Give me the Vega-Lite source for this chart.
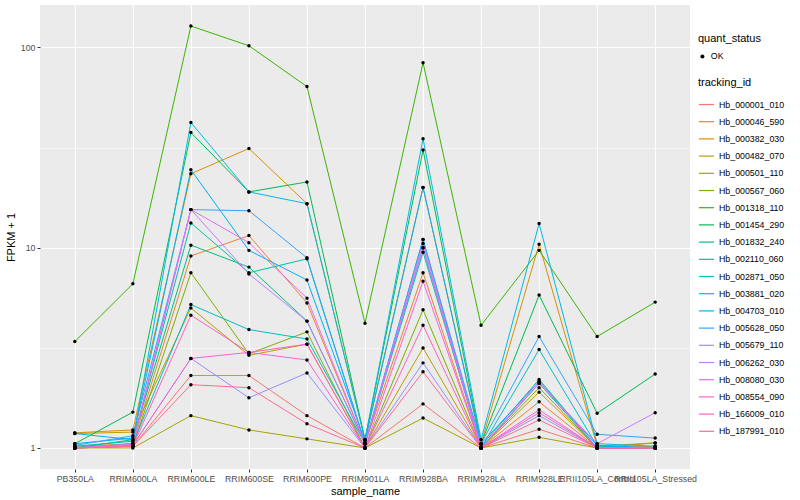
{
  "$schema": "https://vega.github.io/schema/vega-lite/v6.json",
  "width": 650,
  "height": 464,
  "padding": {"left": 5, "top": 5, "right": 5, "bottom": 5},
  "background": "white",
  "config": {
    "font": "Liberation Sans",
    "view": {"fill": "#EBEBEB", "stroke": null},
    "axis": {
      "domain": false,
      "gridColor": "white",
      "gridWidth": 1.1,
      "tickColor": "#333333",
      "tickSize": 3,
      "labelColor": "#4D4D4D",
      "labelFontSize": 8.8,
      "labelPadding": 2,
      "titleFontSize": 11,
      "titleFontWeight": "normal",
      "titleColor": "black"
    },
    "legend": {
      "titleFontSize": 11,
      "titleFontWeight": "normal",
      "titleColor": "black",
      "labelFontSize": 8.8,
      "labelColor": "black"
    }
  },
  "data": {"values": [
    {"tracking_id":"Hb_000001_010","sample_name":"PB350LA","fpkm":1.00,"quant_status":"OK"},
    {"tracking_id":"Hb_000001_010","sample_name":"RRIM600LA","fpkm":1.02,"quant_status":"OK"},
    {"tracking_id":"Hb_000001_010","sample_name":"RRIM600LE","fpkm":2.30,"quant_status":"OK"},
    {"tracking_id":"Hb_000001_010","sample_name":"RRIM600SE","fpkm":2.30,"quant_status":"OK"},
    {"tracking_id":"Hb_000001_010","sample_name":"RRIM600PE","fpkm":1.45,"quant_status":"OK"},
    {"tracking_id":"Hb_000001_010","sample_name":"RRIM901LA","fpkm":1.00,"quant_status":"OK"},
    {"tracking_id":"Hb_000001_010","sample_name":"RRIM928BA","fpkm":1.66,"quant_status":"OK"},
    {"tracking_id":"Hb_000001_010","sample_name":"RRIM928LA","fpkm":1.00,"quant_status":"OK"},
    {"tracking_id":"Hb_000001_010","sample_name":"RRIM928LE","fpkm":1.24,"quant_status":"OK"},
    {"tracking_id":"Hb_000001_010","sample_name":"RRII105LA_Control","fpkm":1.00,"quant_status":"OK"},
    {"tracking_id":"Hb_000001_010","sample_name":"RRII105LA_Stressed","fpkm":1.00,"quant_status":"OK"},

    {"tracking_id":"Hb_000046_590","sample_name":"PB350LA","fpkm":1.02,"quant_status":"OK"},
    {"tracking_id":"Hb_000046_590","sample_name":"RRIM600LA","fpkm":1.05,"quant_status":"OK"},
    {"tracking_id":"Hb_000046_590","sample_name":"RRIM600LE","fpkm":9.1,"quant_status":"OK"},
    {"tracking_id":"Hb_000046_590","sample_name":"RRIM600SE","fpkm":11.5,"quant_status":"OK"},
    {"tracking_id":"Hb_000046_590","sample_name":"RRIM600PE","fpkm":5.3,"quant_status":"OK"},
    {"tracking_id":"Hb_000046_590","sample_name":"RRIM901LA","fpkm":1.05,"quant_status":"OK"},
    {"tracking_id":"Hb_000046_590","sample_name":"RRIM928BA","fpkm":7.5,"quant_status":"OK"},
    {"tracking_id":"Hb_000046_590","sample_name":"RRIM928LA","fpkm":1.00,"quant_status":"OK"},
    {"tracking_id":"Hb_000046_590","sample_name":"RRIM928LE","fpkm":1.70,"quant_status":"OK"},
    {"tracking_id":"Hb_000046_590","sample_name":"RRII105LA_Control","fpkm":1.00,"quant_status":"OK"},
    {"tracking_id":"Hb_000046_590","sample_name":"RRII105LA_Stressed","fpkm":1.02,"quant_status":"OK"},

    {"tracking_id":"Hb_000382_030","sample_name":"PB350LA","fpkm":1.19,"quant_status":"OK"},
    {"tracking_id":"Hb_000382_030","sample_name":"RRIM600LA","fpkm":1.23,"quant_status":"OK"},
    {"tracking_id":"Hb_000382_030","sample_name":"RRIM600LE","fpkm":23.4,"quant_status":"OK"},
    {"tracking_id":"Hb_000382_030","sample_name":"RRIM600SE","fpkm":31.3,"quant_status":"OK"},
    {"tracking_id":"Hb_000382_030","sample_name":"RRIM600PE","fpkm":16.6,"quant_status":"OK"},
    {"tracking_id":"Hb_000382_030","sample_name":"RRIM901LA","fpkm":1.10,"quant_status":"OK"},
    {"tracking_id":"Hb_000382_030","sample_name":"RRIM928BA","fpkm":20.0,"quant_status":"OK"},
    {"tracking_id":"Hb_000382_030","sample_name":"RRIM928LA","fpkm":1.05,"quant_status":"OK"},
    {"tracking_id":"Hb_000382_030","sample_name":"RRIM928LE","fpkm":10.4,"quant_status":"OK"},
    {"tracking_id":"Hb_000382_030","sample_name":"RRII105LA_Control","fpkm":1.02,"quant_status":"OK"},
    {"tracking_id":"Hb_000382_030","sample_name":"RRII105LA_Stressed","fpkm":1.06,"quant_status":"OK"},

    {"tracking_id":"Hb_000482_070","sample_name":"PB350LA","fpkm":1.18,"quant_status":"OK"},
    {"tracking_id":"Hb_000482_070","sample_name":"RRIM600LA","fpkm":1.20,"quant_status":"OK"},
    {"tracking_id":"Hb_000482_070","sample_name":"RRIM600LE","fpkm":5.0,"quant_status":"OK"},
    {"tracking_id":"Hb_000482_070","sample_name":"RRIM600SE","fpkm":2.9,"quant_status":"OK"},
    {"tracking_id":"Hb_000482_070","sample_name":"RRIM600PE","fpkm":3.3,"quant_status":"OK"},
    {"tracking_id":"Hb_000482_070","sample_name":"RRIM901LA","fpkm":1.00,"quant_status":"OK"},
    {"tracking_id":"Hb_000482_070","sample_name":"RRIM928BA","fpkm":3.16,"quant_status":"OK"},
    {"tracking_id":"Hb_000482_070","sample_name":"RRIM928LA","fpkm":1.00,"quant_status":"OK"},
    {"tracking_id":"Hb_000482_070","sample_name":"RRIM928LE","fpkm":1.90,"quant_status":"OK"},
    {"tracking_id":"Hb_000482_070","sample_name":"RRII105LA_Control","fpkm":1.00,"quant_status":"OK"},
    {"tracking_id":"Hb_000482_070","sample_name":"RRII105LA_Stressed","fpkm":1.06,"quant_status":"OK"},

    {"tracking_id":"Hb_000501_110","sample_name":"PB350LA","fpkm":1.00,"quant_status":"OK"},
    {"tracking_id":"Hb_000501_110","sample_name":"RRIM600LA","fpkm":1.00,"quant_status":"OK"},
    {"tracking_id":"Hb_000501_110","sample_name":"RRIM600LE","fpkm":1.45,"quant_status":"OK"},
    {"tracking_id":"Hb_000501_110","sample_name":"RRIM600SE","fpkm":1.23,"quant_status":"OK"},
    {"tracking_id":"Hb_000501_110","sample_name":"RRIM600PE","fpkm":1.11,"quant_status":"OK"},
    {"tracking_id":"Hb_000501_110","sample_name":"RRIM901LA","fpkm":1.00,"quant_status":"OK"},
    {"tracking_id":"Hb_000501_110","sample_name":"RRIM928BA","fpkm":1.41,"quant_status":"OK"},
    {"tracking_id":"Hb_000501_110","sample_name":"RRIM928LA","fpkm":1.00,"quant_status":"OK"},
    {"tracking_id":"Hb_000501_110","sample_name":"RRIM928LE","fpkm":1.13,"quant_status":"OK"},
    {"tracking_id":"Hb_000501_110","sample_name":"RRII105LA_Control","fpkm":1.00,"quant_status":"OK"},
    {"tracking_id":"Hb_000501_110","sample_name":"RRII105LA_Stressed","fpkm":1.00,"quant_status":"OK"},

    {"tracking_id":"Hb_000567_060","sample_name":"PB350LA","fpkm":1.00,"quant_status":"OK"},
    {"tracking_id":"Hb_000567_060","sample_name":"RRIM600LA","fpkm":1.02,"quant_status":"OK"},
    {"tracking_id":"Hb_000567_060","sample_name":"RRIM600LE","fpkm":7.5,"quant_status":"OK"},
    {"tracking_id":"Hb_000567_060","sample_name":"RRIM600SE","fpkm":2.95,"quant_status":"OK"},
    {"tracking_id":"Hb_000567_060","sample_name":"RRIM600PE","fpkm":3.8,"quant_status":"OK"},
    {"tracking_id":"Hb_000567_060","sample_name":"RRIM901LA","fpkm":1.00,"quant_status":"OK"},
    {"tracking_id":"Hb_000567_060","sample_name":"RRIM928BA","fpkm":4.9,"quant_status":"OK"},
    {"tracking_id":"Hb_000567_060","sample_name":"RRIM928LA","fpkm":1.00,"quant_status":"OK"},
    {"tracking_id":"Hb_000567_060","sample_name":"RRIM928LE","fpkm":2.00,"quant_status":"OK"},
    {"tracking_id":"Hb_000567_060","sample_name":"RRII105LA_Control","fpkm":1.00,"quant_status":"OK"},
    {"tracking_id":"Hb_000567_060","sample_name":"RRII105LA_Stressed","fpkm":1.00,"quant_status":"OK"},

    {"tracking_id":"Hb_001318_110","sample_name":"PB350LA","fpkm":3.4,"quant_status":"OK"},
    {"tracking_id":"Hb_001318_110","sample_name":"RRIM600LA","fpkm":6.6,"quant_status":"OK"},
    {"tracking_id":"Hb_001318_110","sample_name":"RRIM600LE","fpkm":128,"quant_status":"OK"},
    {"tracking_id":"Hb_001318_110","sample_name":"RRIM600SE","fpkm":102,"quant_status":"OK"},
    {"tracking_id":"Hb_001318_110","sample_name":"RRIM600PE","fpkm":63.8,"quant_status":"OK"},
    {"tracking_id":"Hb_001318_110","sample_name":"RRIM901LA","fpkm":4.2,"quant_status":"OK"},
    {"tracking_id":"Hb_001318_110","sample_name":"RRIM928BA","fpkm":84,"quant_status":"OK"},
    {"tracking_id":"Hb_001318_110","sample_name":"RRIM928LA","fpkm":4.1,"quant_status":"OK"},
    {"tracking_id":"Hb_001318_110","sample_name":"RRIM928LE","fpkm":9.7,"quant_status":"OK"},
    {"tracking_id":"Hb_001318_110","sample_name":"RRII105LA_Control","fpkm":3.6,"quant_status":"OK"},
    {"tracking_id":"Hb_001318_110","sample_name":"RRII105LA_Stressed","fpkm":5.35,"quant_status":"OK"},

    {"tracking_id":"Hb_001454_290","sample_name":"PB350LA","fpkm":1.05,"quant_status":"OK"},
    {"tracking_id":"Hb_001454_290","sample_name":"RRIM600LA","fpkm":1.51,"quant_status":"OK"},
    {"tracking_id":"Hb_001454_290","sample_name":"RRIM600LE","fpkm":37.6,"quant_status":"OK"},
    {"tracking_id":"Hb_001454_290","sample_name":"RRIM600SE","fpkm":19.0,"quant_status":"OK"},
    {"tracking_id":"Hb_001454_290","sample_name":"RRIM600PE","fpkm":21.3,"quant_status":"OK"},
    {"tracking_id":"Hb_001454_290","sample_name":"RRIM901LA","fpkm":1.10,"quant_status":"OK"},
    {"tracking_id":"Hb_001454_290","sample_name":"RRIM928BA","fpkm":30.8,"quant_status":"OK"},
    {"tracking_id":"Hb_001454_290","sample_name":"RRIM928LA","fpkm":1.05,"quant_status":"OK"},
    {"tracking_id":"Hb_001454_290","sample_name":"RRIM928LE","fpkm":5.8,"quant_status":"OK"},
    {"tracking_id":"Hb_001454_290","sample_name":"RRII105LA_Control","fpkm":1.49,"quant_status":"OK"},
    {"tracking_id":"Hb_001454_290","sample_name":"RRII105LA_Stressed","fpkm":2.34,"quant_status":"OK"},

    {"tracking_id":"Hb_001832_240","sample_name":"PB350LA","fpkm":1.00,"quant_status":"OK"},
    {"tracking_id":"Hb_001832_240","sample_name":"RRIM600LA","fpkm":1.10,"quant_status":"OK"},
    {"tracking_id":"Hb_001832_240","sample_name":"RRIM600LE","fpkm":10.3,"quant_status":"OK"},
    {"tracking_id":"Hb_001832_240","sample_name":"RRIM600SE","fpkm":8.0,"quant_status":"OK"},
    {"tracking_id":"Hb_001832_240","sample_name":"RRIM600PE","fpkm":4.3,"quant_status":"OK"},
    {"tracking_id":"Hb_001832_240","sample_name":"RRIM901LA","fpkm":1.05,"quant_status":"OK"},
    {"tracking_id":"Hb_001832_240","sample_name":"RRIM928BA","fpkm":10.0,"quant_status":"OK"},
    {"tracking_id":"Hb_001832_240","sample_name":"RRIM928LA","fpkm":1.00,"quant_status":"OK"},
    {"tracking_id":"Hb_001832_240","sample_name":"RRIM928LE","fpkm":2.10,"quant_status":"OK"},
    {"tracking_id":"Hb_001832_240","sample_name":"RRII105LA_Control","fpkm":1.00,"quant_status":"OK"},
    {"tracking_id":"Hb_001832_240","sample_name":"RRII105LA_Stressed","fpkm":1.00,"quant_status":"OK"},

    {"tracking_id":"Hb_002110_060","sample_name":"PB350LA","fpkm":1.02,"quant_status":"OK"},
    {"tracking_id":"Hb_002110_060","sample_name":"RRIM600LA","fpkm":1.08,"quant_status":"OK"},
    {"tracking_id":"Hb_002110_060","sample_name":"RRIM600LE","fpkm":13.3,"quant_status":"OK"},
    {"tracking_id":"Hb_002110_060","sample_name":"RRIM600SE","fpkm":7.5,"quant_status":"OK"},
    {"tracking_id":"Hb_002110_060","sample_name":"RRIM600PE","fpkm":8.8,"quant_status":"OK"},
    {"tracking_id":"Hb_002110_060","sample_name":"RRIM901LA","fpkm":1.05,"quant_status":"OK"},
    {"tracking_id":"Hb_002110_060","sample_name":"RRIM928BA","fpkm":9.5,"quant_status":"OK"},
    {"tracking_id":"Hb_002110_060","sample_name":"RRIM928LA","fpkm":1.02,"quant_status":"OK"},
    {"tracking_id":"Hb_002110_060","sample_name":"RRIM928LE","fpkm":2.20,"quant_status":"OK"},
    {"tracking_id":"Hb_002110_060","sample_name":"RRII105LA_Control","fpkm":1.00,"quant_status":"OK"},
    {"tracking_id":"Hb_002110_060","sample_name":"RRII105LA_Stressed","fpkm":1.00,"quant_status":"OK"},

    {"tracking_id":"Hb_002871_050","sample_name":"PB350LA","fpkm":1.00,"quant_status":"OK"},
    {"tracking_id":"Hb_002871_050","sample_name":"RRIM600LA","fpkm":1.05,"quant_status":"OK"},
    {"tracking_id":"Hb_002871_050","sample_name":"RRIM600LE","fpkm":5.2,"quant_status":"OK"},
    {"tracking_id":"Hb_002871_050","sample_name":"RRIM600SE","fpkm":3.9,"quant_status":"OK"},
    {"tracking_id":"Hb_002871_050","sample_name":"RRIM600PE","fpkm":3.5,"quant_status":"OK"},
    {"tracking_id":"Hb_002871_050","sample_name":"RRIM901LA","fpkm":1.05,"quant_status":"OK"},
    {"tracking_id":"Hb_002871_050","sample_name":"RRIM928BA","fpkm":11.0,"quant_status":"OK"},
    {"tracking_id":"Hb_002871_050","sample_name":"RRIM928LA","fpkm":1.00,"quant_status":"OK"},
    {"tracking_id":"Hb_002871_050","sample_name":"RRIM928LE","fpkm":3.10,"quant_status":"OK"},
    {"tracking_id":"Hb_002871_050","sample_name":"RRII105LA_Control","fpkm":1.02,"quant_status":"OK"},
    {"tracking_id":"Hb_002871_050","sample_name":"RRII105LA_Stressed","fpkm":1.00,"quant_status":"OK"},

    {"tracking_id":"Hb_003881_020","sample_name":"PB350LA","fpkm":1.18,"quant_status":"OK"},
    {"tracking_id":"Hb_003881_020","sample_name":"RRIM600LA","fpkm":1.10,"quant_status":"OK"},
    {"tracking_id":"Hb_003881_020","sample_name":"RRIM600LE","fpkm":42.2,"quant_status":"OK"},
    {"tracking_id":"Hb_003881_020","sample_name":"RRIM600SE","fpkm":19.0,"quant_status":"OK"},
    {"tracking_id":"Hb_003881_020","sample_name":"RRIM600PE","fpkm":16.6,"quant_status":"OK"},
    {"tracking_id":"Hb_003881_020","sample_name":"RRIM901LA","fpkm":1.10,"quant_status":"OK"},
    {"tracking_id":"Hb_003881_020","sample_name":"RRIM928BA","fpkm":35.0,"quant_status":"OK"},
    {"tracking_id":"Hb_003881_020","sample_name":"RRIM928LA","fpkm":1.10,"quant_status":"OK"},
    {"tracking_id":"Hb_003881_020","sample_name":"RRIM928LE","fpkm":13.2,"quant_status":"OK"},
    {"tracking_id":"Hb_003881_020","sample_name":"RRII105LA_Control","fpkm":1.05,"quant_status":"OK"},
    {"tracking_id":"Hb_003881_020","sample_name":"RRII105LA_Stressed","fpkm":1.02,"quant_status":"OK"},

    {"tracking_id":"Hb_004703_010","sample_name":"PB350LA","fpkm":1.05,"quant_status":"OK"},
    {"tracking_id":"Hb_004703_010","sample_name":"RRIM600LA","fpkm":1.12,"quant_status":"OK"},
    {"tracking_id":"Hb_004703_010","sample_name":"RRIM600LE","fpkm":24.5,"quant_status":"OK"},
    {"tracking_id":"Hb_004703_010","sample_name":"RRIM600SE","fpkm":9.7,"quant_status":"OK"},
    {"tracking_id":"Hb_004703_010","sample_name":"RRIM600PE","fpkm":6.9,"quant_status":"OK"},
    {"tracking_id":"Hb_004703_010","sample_name":"RRIM901LA","fpkm":1.08,"quant_status":"OK"},
    {"tracking_id":"Hb_004703_010","sample_name":"RRIM928BA","fpkm":20.0,"quant_status":"OK"},
    {"tracking_id":"Hb_004703_010","sample_name":"RRIM928LA","fpkm":1.05,"quant_status":"OK"},
    {"tracking_id":"Hb_004703_010","sample_name":"RRIM928LE","fpkm":2.15,"quant_status":"OK"},
    {"tracking_id":"Hb_004703_010","sample_name":"RRII105LA_Control","fpkm":1.03,"quant_status":"OK"},
    {"tracking_id":"Hb_004703_010","sample_name":"RRII105LA_Stressed","fpkm":1.00,"quant_status":"OK"},

    {"tracking_id":"Hb_005628_050","sample_name":"PB350LA","fpkm":1.03,"quant_status":"OK"},
    {"tracking_id":"Hb_005628_050","sample_name":"RRIM600LA","fpkm":1.15,"quant_status":"OK"},
    {"tracking_id":"Hb_005628_050","sample_name":"RRIM600LE","fpkm":15.5,"quant_status":"OK"},
    {"tracking_id":"Hb_005628_050","sample_name":"RRIM600SE","fpkm":15.3,"quant_status":"OK"},
    {"tracking_id":"Hb_005628_050","sample_name":"RRIM600PE","fpkm":8.9,"quant_status":"OK"},
    {"tracking_id":"Hb_005628_050","sample_name":"RRIM901LA","fpkm":1.05,"quant_status":"OK"},
    {"tracking_id":"Hb_005628_050","sample_name":"RRIM928BA","fpkm":11.0,"quant_status":"OK"},
    {"tracking_id":"Hb_005628_050","sample_name":"RRIM928LA","fpkm":1.05,"quant_status":"OK"},
    {"tracking_id":"Hb_005628_050","sample_name":"RRIM928LE","fpkm":3.60,"quant_status":"OK"},
    {"tracking_id":"Hb_005628_050","sample_name":"RRII105LA_Control","fpkm":1.17,"quant_status":"OK"},
    {"tracking_id":"Hb_005628_050","sample_name":"RRII105LA_Stressed","fpkm":1.12,"quant_status":"OK"},

    {"tracking_id":"Hb_005679_110","sample_name":"PB350LA","fpkm":1.00,"quant_status":"OK"},
    {"tracking_id":"Hb_005679_110","sample_name":"RRIM600LA","fpkm":1.03,"quant_status":"OK"},
    {"tracking_id":"Hb_005679_110","sample_name":"RRIM600LE","fpkm":2.8,"quant_status":"OK"},
    {"tracking_id":"Hb_005679_110","sample_name":"RRIM600SE","fpkm":1.78,"quant_status":"OK"},
    {"tracking_id":"Hb_005679_110","sample_name":"RRIM600PE","fpkm":2.37,"quant_status":"OK"},
    {"tracking_id":"Hb_005679_110","sample_name":"RRIM901LA","fpkm":1.00,"quant_status":"OK"},
    {"tracking_id":"Hb_005679_110","sample_name":"RRIM928BA","fpkm":2.66,"quant_status":"OK"},
    {"tracking_id":"Hb_005679_110","sample_name":"RRIM928LA","fpkm":1.00,"quant_status":"OK"},
    {"tracking_id":"Hb_005679_110","sample_name":"RRIM928LE","fpkm":1.45,"quant_status":"OK"},
    {"tracking_id":"Hb_005679_110","sample_name":"RRII105LA_Control","fpkm":1.00,"quant_status":"OK"},
    {"tracking_id":"Hb_005679_110","sample_name":"RRII105LA_Stressed","fpkm":1.00,"quant_status":"OK"},

    {"tracking_id":"Hb_006262_030","sample_name":"PB350LA","fpkm":1.00,"quant_status":"OK"},
    {"tracking_id":"Hb_006262_030","sample_name":"RRIM600LA","fpkm":1.05,"quant_status":"OK"},
    {"tracking_id":"Hb_006262_030","sample_name":"RRIM600LE","fpkm":15.5,"quant_status":"OK"},
    {"tracking_id":"Hb_006262_030","sample_name":"RRIM600SE","fpkm":7.4,"quant_status":"OK"},
    {"tracking_id":"Hb_006262_030","sample_name":"RRIM600PE","fpkm":4.3,"quant_status":"OK"},
    {"tracking_id":"Hb_006262_030","sample_name":"RRIM901LA","fpkm":1.05,"quant_status":"OK"},
    {"tracking_id":"Hb_006262_030","sample_name":"RRIM928BA","fpkm":10.0,"quant_status":"OK"},
    {"tracking_id":"Hb_006262_030","sample_name":"RRIM928LA","fpkm":1.00,"quant_status":"OK"},
    {"tracking_id":"Hb_006262_030","sample_name":"RRIM928LE","fpkm":2.10,"quant_status":"OK"},
    {"tracking_id":"Hb_006262_030","sample_name":"RRII105LA_Control","fpkm":1.05,"quant_status":"OK"},
    {"tracking_id":"Hb_006262_030","sample_name":"RRII105LA_Stressed","fpkm":1.50,"quant_status":"OK"},

    {"tracking_id":"Hb_008080_030","sample_name":"PB350LA","fpkm":1.00,"quant_status":"OK"},
    {"tracking_id":"Hb_008080_030","sample_name":"RRIM600LA","fpkm":1.04,"quant_status":"OK"},
    {"tracking_id":"Hb_008080_030","sample_name":"RRIM600LE","fpkm":15.5,"quant_status":"OK"},
    {"tracking_id":"Hb_008080_030","sample_name":"RRIM600SE","fpkm":10.6,"quant_status":"OK"},
    {"tracking_id":"Hb_008080_030","sample_name":"RRIM600PE","fpkm":5.6,"quant_status":"OK"},
    {"tracking_id":"Hb_008080_030","sample_name":"RRIM901LA","fpkm":1.05,"quant_status":"OK"},
    {"tracking_id":"Hb_008080_030","sample_name":"RRIM928BA","fpkm":10.5,"quant_status":"OK"},
    {"tracking_id":"Hb_008080_030","sample_name":"RRIM928LA","fpkm":1.00,"quant_status":"OK"},
    {"tracking_id":"Hb_008080_030","sample_name":"RRIM928LE","fpkm":2.15,"quant_status":"OK"},
    {"tracking_id":"Hb_008080_030","sample_name":"RRII105LA_Control","fpkm":1.00,"quant_status":"OK"},
    {"tracking_id":"Hb_008080_030","sample_name":"RRII105LA_Stressed","fpkm":1.00,"quant_status":"OK"},

    {"tracking_id":"Hb_008554_090","sample_name":"PB350LA","fpkm":1.00,"quant_status":"OK"},
    {"tracking_id":"Hb_008554_090","sample_name":"RRIM600LA","fpkm":1.03,"quant_status":"OK"},
    {"tracking_id":"Hb_008554_090","sample_name":"RRIM600LE","fpkm":2.8,"quant_status":"OK"},
    {"tracking_id":"Hb_008554_090","sample_name":"RRIM600SE","fpkm":3.0,"quant_status":"OK"},
    {"tracking_id":"Hb_008554_090","sample_name":"RRIM600PE","fpkm":2.75,"quant_status":"OK"},
    {"tracking_id":"Hb_008554_090","sample_name":"RRIM901LA","fpkm":1.00,"quant_status":"OK"},
    {"tracking_id":"Hb_008554_090","sample_name":"RRIM928BA","fpkm":6.8,"quant_status":"OK"},
    {"tracking_id":"Hb_008554_090","sample_name":"RRIM928LA","fpkm":1.00,"quant_status":"OK"},
    {"tracking_id":"Hb_008554_090","sample_name":"RRIM928LE","fpkm":1.55,"quant_status":"OK"},
    {"tracking_id":"Hb_008554_090","sample_name":"RRII105LA_Control","fpkm":1.00,"quant_status":"OK"},
    {"tracking_id":"Hb_008554_090","sample_name":"RRII105LA_Stressed","fpkm":1.00,"quant_status":"OK"},

    {"tracking_id":"Hb_166009_010","sample_name":"PB350LA","fpkm":1.00,"quant_status":"OK"},
    {"tracking_id":"Hb_166009_010","sample_name":"RRIM600LA","fpkm":1.02,"quant_status":"OK"},
    {"tracking_id":"Hb_166009_010","sample_name":"RRIM600LE","fpkm":4.6,"quant_status":"OK"},
    {"tracking_id":"Hb_166009_010","sample_name":"RRIM600SE","fpkm":3.0,"quant_status":"OK"},
    {"tracking_id":"Hb_166009_010","sample_name":"RRIM600PE","fpkm":3.3,"quant_status":"OK"},
    {"tracking_id":"Hb_166009_010","sample_name":"RRIM901LA","fpkm":1.00,"quant_status":"OK"},
    {"tracking_id":"Hb_166009_010","sample_name":"RRIM928BA","fpkm":4.1,"quant_status":"OK"},
    {"tracking_id":"Hb_166009_010","sample_name":"RRIM928LA","fpkm":1.00,"quant_status":"OK"},
    {"tracking_id":"Hb_166009_010","sample_name":"RRIM928LE","fpkm":1.50,"quant_status":"OK"},
    {"tracking_id":"Hb_166009_010","sample_name":"RRII105LA_Control","fpkm":1.00,"quant_status":"OK"},
    {"tracking_id":"Hb_166009_010","sample_name":"RRII105LA_Stressed","fpkm":1.00,"quant_status":"OK"},

    {"tracking_id":"Hb_187991_010","sample_name":"PB350LA","fpkm":1.00,"quant_status":"OK"},
    {"tracking_id":"Hb_187991_010","sample_name":"RRIM600LA","fpkm":1.02,"quant_status":"OK"},
    {"tracking_id":"Hb_187991_010","sample_name":"RRIM600LE","fpkm":2.07,"quant_status":"OK"},
    {"tracking_id":"Hb_187991_010","sample_name":"RRIM600SE","fpkm":2.0,"quant_status":"OK"},
    {"tracking_id":"Hb_187991_010","sample_name":"RRIM600PE","fpkm":1.32,"quant_status":"OK"},
    {"tracking_id":"Hb_187991_010","sample_name":"RRIM901LA","fpkm":1.00,"quant_status":"OK"},
    {"tracking_id":"Hb_187991_010","sample_name":"RRIM928BA","fpkm":2.4,"quant_status":"OK"},
    {"tracking_id":"Hb_187991_010","sample_name":"RRIM928LA","fpkm":1.00,"quant_status":"OK"},
    {"tracking_id":"Hb_187991_010","sample_name":"RRIM928LE","fpkm":1.38,"quant_status":"OK"},
    {"tracking_id":"Hb_187991_010","sample_name":"RRII105LA_Control","fpkm":1.00,"quant_status":"OK"},
    {"tracking_id":"Hb_187991_010","sample_name":"RRII105LA_Stressed","fpkm":1.00,"quant_status":"OK"}
  ]},
  "encoding": {
    "x": {
      "field": "sample_name",
      "type": "nominal",
      "sort": ["PB350LA","RRIM600LA","RRIM600LE","RRIM600SE","RRIM600PE","RRIM901LA","RRIM928BA","RRIM928LA","RRIM928LE","RRII105LA_Control","RRII105LA_Stressed"],
      "scale": {"type": "point", "padding": 0.6},
      "axis": {"title": "sample_name", "labelAngle": 0, "labelOverlap": false, "labelBound": false, "labelLimit": 0, "grid": true, "titlePadding": 3}
    },
    "y": {
      "field": "fpkm",
      "type": "quantitative",
      "scale": {"type": "log", "domain": [0.785, 163], "nice": false}
    }
  },
  "layer": [
    {
      "mark": {"type": "line", "strokeWidth": 1},
      "encoding": {
        "y": {"field": "fpkm", "type": "quantitative", "axis": {"title": "FPKM + 1", "values": [1, 10, 100], "grid": true, "titlePadding": 4}},
        "color": {
          "field": "tracking_id",
          "type": "nominal",
          "scale": {"range": ["#F8766D","#EA8331","#D89000","#C09B00","#A3A500","#7CAE00","#39B600","#00BB4E","#00BF7D","#00C1A3","#00BFC4","#00BAE0","#00B0F6","#35A2FF","#9590FF","#C77CFF","#E76BF3","#FA62DB","#FF62BC","#FF6C91"]},
          "legend": {"title": "tracking_id", "orient": "none", "legendX": 658, "legendY": 72, "symbolType": "stroke", "symbolStrokeWidth": 1.2, "symbolOpacity": 1, "symbolSize": 230, "rowPadding": 3.2, "titlePadding": 8}
        },
        "order": {"value": null}
      }
    },
    {
      "mark": {"type": "point", "filled": true, "color": "black", "opacity": 1, "size": 12},
      "encoding": {
        "y": {"field": "fpkm", "type": "quantitative", "axis": {"orient": "left", "values": [3.1623, 31.623], "grid": true, "gridWidth": 0.55, "labels": false, "ticks": false, "domain": false, "title": null}},
        "shape": {
          "field": "quant_status",
          "type": "nominal",
          "scale": {"range": ["circle"]},
          "legend": {"title": "quant_status", "orient": "none", "legendX": 658, "legendY": 28, "symbolFillColor": "black", "symbolStrokeColor": "black", "symbolSize": 16, "titlePadding": 8}
        }
      }
    }
  ],
  "resolve": {"axis": {"y": "independent"}}
}
